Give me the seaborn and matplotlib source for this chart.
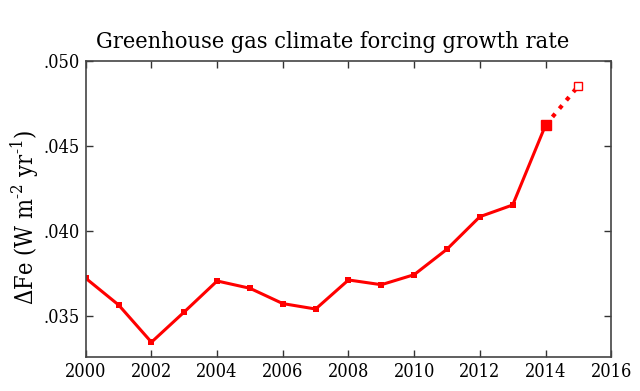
import numpy as np
import pandas as pd
import seaborn as sns
import matplotlib.pyplot as plt

years = [2000, 2001, 2002, 2003, 2004, 2005, 2006, 2007,
         2008, 2009, 2010, 2011, 2012, 2013, 2014]
forcing_rate = [0.03720, 0.03563, 0.03344, 0.03522, 0.03704, 0.03661, 0.03571, 0.03539,
                0.03710, 0.03682, 0.03741, 0.03891, 0.04082, 0.04151, 0.04620]
proj_years = [2014, 2015]
proj_rate = [0.04620, 0.04851]

df = pd.DataFrame({"year": years, "rate": forcing_rate})
proj = pd.DataFrame({"year": proj_years, "rate": proj_rate})

sns.set_style("ticks")
plt.rcParams['font.family'] = ['DejaVu Serif', 'Liberation Serif']
plt.rcParams['font.stretch'] = 'condensed'
plt.rcParams['mathtext.fontset'] = 'custom'
plt.rcParams['mathtext.rm'] = 'DejaVu Serif:stretch=condensed'
plt.rcParams['text.color'] = 'black'
plt.rcParams['axes.labelcolor'] = 'black'
plt.rcParams['xtick.labelcolor'] = 'black'
plt.rcParams['ytick.labelcolor'] = 'black'

fig = plt.figure(figsize=(6.4, 3.91), dpi=100)
ax = fig.add_axes([0.134, 0.087, 0.821, 0.758])

# dotted projection 2014 -> 2015
sns.lineplot(data=proj, x="year", y="rate", ax=ax, color="red",
             linestyle=(0, (1, 1.6)), linewidth=3)
sns.lineplot(data=df, x="year", y="rate", ax=ax, color="red", linewidth=2.2,
             marker="s", markersize=4.5, markeredgewidth=0)
ax.plot(proj_years[:1], proj_rate[:1], marker="s", color="red", markersize=6.5,
        linestyle="none")
ax.plot(proj_years[1:], proj_rate[1:], marker="s", markerfacecolor="white",
        markeredgecolor="red", markeredgewidth=1, markersize=6, linestyle="none")

ax.set_xlim(2000, 2016)
ax.set_ylim(0.03257, 0.050)
ax.set_xticks(range(2000, 2017, 2))
ax.set_yticks([0.035, 0.040, 0.045, 0.050])
ax.set_yticklabels([".035", ".040", ".045", ".050"])

ax.tick_params(direction="in", top=True, right=True, length=5, width=1,
               labelsize=13, color="#333333", pad=4)
for s in ax.spines.values():
    s.set_color("#444444")
    s.set_linewidth(1.2)

ax.set_xlabel("")
ax.set_ylabel("ΔFe (W m$^{\u2010 2}$ yr$^{\u2010 1}$)", fontsize=17)
ax.yaxis.set_label_coords(-0.083, 0.47)
ax.set_title("Greenhouse gas climate forcing growth rate", fontsize=16.8, pad=9)
ax.title.set_x(0.469)

fig.savefig("out.png", dpi=100)
